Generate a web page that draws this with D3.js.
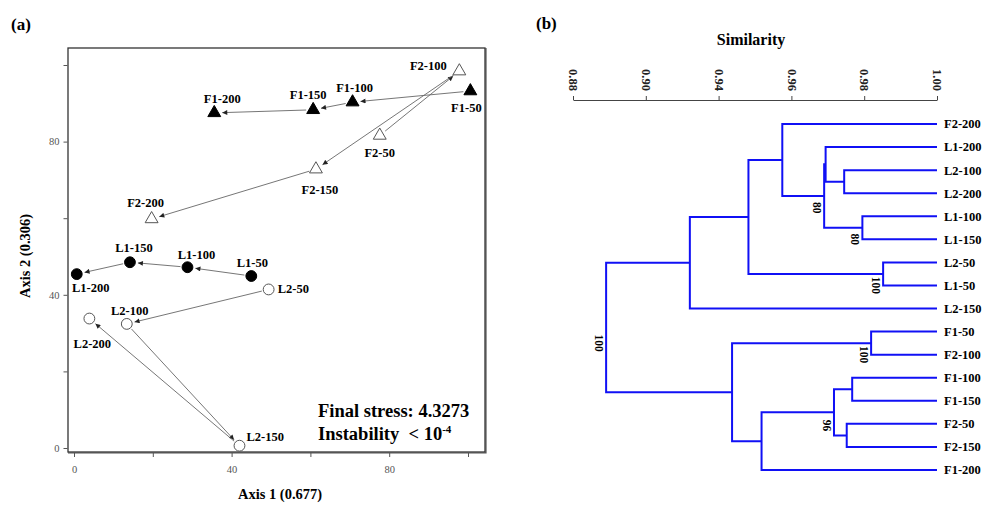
<!DOCTYPE html>
<html>
<head>
<meta charset="utf-8">
<script src="https://cdn.jsdelivr.net/npm/d3@7"></script>
<style>
  body { margin: 0; background: #fff; }
  text { font-family: "Liberation Serif", "Times New Roman", serif; }
</style>
</head>
<body>
<div id="chart"></div>
<script>
const width = 984;
const height = 505;

// ---- panel (a) data : NMDS scores ----
const groups = ['F1', 'F2', 'L1', 'L2'];
const doses = ['50', '100', '150', '200'];
const axis1F1 = [100.6, 70.7, 60.7, 35.6];
const axis2F1 = [93.2, 90.3, 88.3, 87.5];
const axis1F2 = [77.6, 97.8, 61.4, 19.7];
const axis2F2 = [81.6, 98.4, 72.8, 59.8];
const axis1L1 = [45.0, 28.8, 14.2, 0.7];
const axis2L1 = [44.9, 47.2, 48.5, 45.4];
const axis1L2 = [49.4, 13.4, 42.0, 3.9];
const axis2L2 = [41.4, 32.4, 0.6, 33.8];
const axisTicks = [0, 20, 40, 60, 80, 100];
const axisLabelled = [0, 40, 80];

// ---- panel (b) data : dendrogram ----
const leaves = ['F2-200', 'L1-200', 'L2-100', 'L2-200', 'L1-100', 'L1-150', 'L2-50', 'L1-50',
  'L2-150', 'F1-50', 'F2-100', 'F1-100', 'F1-150', 'F2-50', 'F2-150', 'F1-200'];
// [node, child 1, child 2, similarity, bootstrap]
const merges = [
  ['n1', 'L2-100', 'L2-200', 0.9745, null],
  ['n2', 'L1-200', 'n1', 0.9694, null],
  ['n3', 'L1-100', 'L1-150', 0.9795, 80],
  ['n4', 'n2', 'n3', 0.9690, 80],
  ['n5', 'F2-200', 'n4', 0.9575, null],
  ['n6', 'L2-50', 'L1-50', 0.9852, 100],
  ['n7', 'n5', 'n6', 0.9482, null],
  ['n8', 'n7', 'L2-150', 0.9321, null],
  ['n9', 'F1-50', 'F2-100', 0.9819, 100],
  ['n10', 'F1-100', 'F1-150', 0.9767, null],
  ['n11', 'F2-50', 'F2-150', 0.9752, null],
  ['n12', 'n10', 'n11', 0.9717, 96],
  ['n13', 'n12', 'F1-200', 0.9518, null],
  ['n14', 'n9', 'n13', 0.9437, null],
  ['root', 'n8', 'n14', 0.9091, 100]
];
const simTicks = [0.90, 0.92, 0.94, 0.96, 0.98, 1.00];
const simTickLabels = ['0.88', '0.90', '0.94', '0.96', '0.98', '1.00'];

const svg = d3.select('#chart').append('svg')
  .attr('width', width)
  .attr('height', height);

const defs = svg.append('defs');
defs.append('marker')
  .attr('id', 'arrow')
  .attr('viewBox', '0 0 10 10')
  .attr('refX', 10)
  .attr('refY', 5)
  .attr('markerUnits', 'userSpaceOnUse')
  .attr('markerWidth', 6)
  .attr('markerHeight', 5)
  .attr('orient', 'auto')
  .append('path')
  .attr('d', 'M0,0 L10,5 L0,10 z')
  .attr('fill', '#222');

// ================= panel (a) =================
const xScale = d3.scaleLinear().domain([0, 100]).range([74, 468]);
const yScale = d3.scaleLinear().domain([0, 100]).range([448, 65]);

const box = { x0: 68, y0: 48, x1: 485, y1: 452 };
const gA = svg.append('g');

gA.append('text').attr('x', 11).attr('y', 30)
  .attr('font-size', 17).attr('font-weight', 'bold').text('(a)');

gA.append('rect')
  .attr('x', box.x0).attr('y', box.y0)
  .attr('width', box.x1 - box.x0).attr('height', box.y1 - box.y0)
  .attr('fill', 'none').attr('stroke', '#333').attr('stroke-width', 1.3);
// heavier right / bottom edge
gA.append('path')
  .attr('d', `M${box.x1 + 0.8},${box.y0} V${box.y1 + 0.8} H${box.x0}`)
  .attr('fill', 'none').attr('stroke', '#555').attr('stroke-width', 1.6);

const fmt = d => axisLabelled.includes(d) ? d : '';
const xAxis = gA.append('g')
  .attr('transform', `translate(0, ${box.y1 + 1})`)
  .call(d3.axisBottom(xScale).tickValues(axisTicks).tickFormat(fmt).tickSize(4).tickSizeOuter(0));
const yAxis = gA.append('g')
  .attr('transform', `translate(${box.x0 - 0.5}, 0)`)
  .call(d3.axisLeft(yScale).tickValues(axisTicks).tickFormat(fmt).tickSize(4).tickSizeOuter(0));
[xAxis, yAxis].forEach(a => {
  a.select('.domain').remove();
  a.selectAll('line').attr('stroke', '#555');
  a.selectAll('text').attr('font-family', '"Liberation Serif", serif')
    .attr('font-size', 10.5).attr('fill', '#555');
});
xAxis.selectAll('text').attr('dy', '1.2em');
yAxis.selectAll('text').attr('dx', '-0.1em');

gA.append('text')
  .attr('x', 280).attr('y', 499)
  .attr('text-anchor', 'middle').attr('font-size', 14.5).attr('font-weight', 'bold')
  .text('Axis 1 (0.677)');
gA.append('text')
  .attr('transform', 'translate(30, 256) rotate(-90)')
  .attr('text-anchor', 'middle').attr('font-size', 14.5).attr('font-weight', 'bold')
  .text('Axis 2 (0.306)');

const seriesX = { F1: axis1F1, F2: axis1F2, L1: axis1L1, L2: axis1L2 };
const seriesY = { F1: axis2F1, F2: axis2F2, L1: axis2L1, L2: axis2L2 };
const markerStyle = {
  F1: { shape: d3.symbolTriangle, fill: '#000', stroke: '#000' },
  F2: { shape: d3.symbolTriangle, fill: '#fff', stroke: '#555' },
  L1: { shape: d3.symbolCircle, fill: '#000', stroke: '#000' },
  L2: { shape: d3.symbolCircle, fill: '#fff', stroke: '#555' }
};
// label offsets relative to the marker [dx, dy, anchor]
const labelPos = {
  'F1-50': [-4, 21, 'middle'], 'F1-100': [2, -10, 'middle'], 'F1-150': [-5, -11, 'middle'], 'F1-200': [8, -10, 'middle'],
  'F2-50': [0, 22, 'middle'], 'F2-100': [-31, -1, 'middle'], 'F2-150': [4, 25, 'middle'], 'F2-200': [-6, -12, 'middle'],
  'L1-50': [1, -9, 'middle'], 'L1-100': [9, -8, 'middle'], 'L1-150': [4, -10, 'middle'], 'L1-200': [14, 18, 'middle'],
  'L2-50': [9, 4, 'start'], 'L2-100': [3, -9, 'middle'], 'L2-150': [7, -5, 'start'], 'L2-200': [3, 29, 'middle']
};

const points = [];
groups.forEach(g => doses.forEach((d, i) => {
  points.push({ group: g, name: `${g}-${d}`, i, x: seriesX[g][i], y: seriesY[g][i] });
}));

// trajectories 50 -> 100 -> 150 -> 200
const links = [];
groups.forEach(g => {
  const ps = points.filter(p => p.group === g);
  for (let i = 0; i < ps.length - 1; i++) links.push([ps[i], ps[i + 1]]);
});
gA.selectAll('.traj')
  .data(links)
  .enter()
  .append('line')
  .attr('class', 'traj')
  .each(function (l) {
    const x1 = xScale(l[0].x), y1 = yScale(l[0].y);
    const x2 = xScale(l[1].x), y2 = yScale(l[1].y);
    const len = Math.hypot(x2 - x1, y2 - y1);
    const ux = (x2 - x1) / len, uy = (y2 - y1) / len;
    d3.select(this)
      .attr('x1', x1 + ux * 7).attr('y1', y1 + uy * 7)
      .attr('x2', x2 - ux * 8).attr('y2', y2 - uy * 8);
  })
  .attr('stroke', '#666').attr('stroke-width', 0.9)
  .attr('marker-end', 'url(#arrow)');

gA.selectAll('.pt')
  .data(points)
  .enter()
  .append('path')
  .attr('class', 'pt')
  .attr('transform', d => `translate(${xScale(d.x)}, ${yScale(d.y)})`)
  .attr('d', d => d3.symbol().type(markerStyle[d.group].shape)
    .size(markerStyle[d.group].shape === d3.symbolCircle ? 92 : 72)())
  .attr('fill', d => markerStyle[d.group].fill)
  .attr('stroke', d => markerStyle[d.group].stroke)
  .attr('stroke-width', 1);

gA.selectAll('.ptlabel')
  .data(points)
  .enter()
  .append('text')
  .attr('class', 'ptlabel')
  .attr('x', d => xScale(d.x) + labelPos[d.name][0])
  .attr('y', d => yScale(d.y) + labelPos[d.name][1])
  .attr('text-anchor', d => labelPos[d.name][2])
  .attr('font-size', 12.5).attr('font-weight', 'bold')
  .text(d => d.name);

const stats = gA.append('g').attr('font-size', 18.5).attr('font-weight', 'bold');
stats.append('text').attr('x', 318).attr('y', 417).text('Final stress: 4.3273');
const inst = stats.append('text').attr('x', 318).attr('y', 440).attr('xml:space', 'preserve');
inst.append('tspan').text('Instability  < 10');
inst.append('tspan').attr('font-size', 11).attr('dy', -7).text('-4');

// ================= panel (b) =================
const gB = svg.append('g');
gB.append('text').attr('x', 536).attr('y', 29)
  .attr('font-size', 17).attr('font-weight', 'bold').text('(b)');
gB.append('text').attr('x', 751).attr('y', 45)
  .attr('text-anchor', 'middle').attr('font-size', 16).attr('font-weight', 'bold')
  .text('Similarity');

const sScale = d3.scaleLinear().domain([0.90, 1.00]).range([573, 937]);
const leafScale = d3.scalePoint().domain(leaves).range([124, 470]);

const simAxis = gB.append('g')
  .attr('transform', 'translate(0, 100)')
  .call(d3.axisTop(sScale).tickValues(simTicks)
    .tickFormat((d, i) => simTickLabels[i]).tickSize(4).tickSizeOuter(0));
simAxis.select('.domain').attr('stroke', '#444');
simAxis.selectAll('line').attr('stroke', '#444');
simAxis.selectAll('text')
  .attr('font-family', '"Liberation Serif", serif')
  .attr('font-size', 12.5).attr('font-weight', 'bold').attr('fill', '#222')
  .attr('transform', 'rotate(90)')
  .attr('x', -31).attr('y', 0).attr('dy', '0.35em')
  .attr('text-anchor', 'start');

// node positions
const pos = {};
leaves.forEach(l => { pos[l] = { x: sScale(1.00), y: leafScale(l) }; });
merges.forEach(m => {
  pos[m[0]] = { x: sScale(m[3]), y: (pos[m[1]].y + pos[m[2]].y) / 2 };
});

const blue = '#1010f5';
const branchPath = m => {
  const p = pos[m[0]], a = pos[m[1]], b = pos[m[2]];
  return `M${a.x},${a.y} H${p.x} V${b.y} H${b.x}`;
};
gB.selectAll('.branch')
  .data(merges)
  .enter()
  .append('path')
  .attr('class', 'branch')
  .attr('d', branchPath)
  .attr('fill', 'none')
  .attr('stroke', blue)
  .attr('stroke-width', 2)
  .attr('stroke-linejoin', 'miter');

gB.selectAll('.leaf')
  .data(leaves)
  .enter()
  .append('text')
  .attr('class', 'leaf')
  .attr('x', sScale(1.00) + 7)
  .attr('y', d => leafScale(d))
  .attr('dy', '0.35em')
  .attr('font-size', 12.5).attr('font-weight', 'bold')
  .text(d => d);

// bootstrap values, written vertically left of the node
const bootShift = { n4: -20, root: -49, n12: -10 };
gB.selectAll('.boot')
  .data(merges.filter(m => m[4] !== null))
  .enter()
  .append('text')
  .attr('class', 'boot')
  .attr('transform', m => {
    const x = pos[m[0]].x - 7;
    const y = Math.max(pos[m[1]].y, pos[m[2]].y) + (bootShift[m[0]] || 0);
    return `translate(${x}, ${y}) rotate(90)`;
  })
  .attr('text-anchor', 'middle')
  .attr('dy', '0.35em')
  .attr('font-size', 11.5).attr('font-weight', 'bold')
  .text(m => m[4]);
</script>
</body>
</html>
